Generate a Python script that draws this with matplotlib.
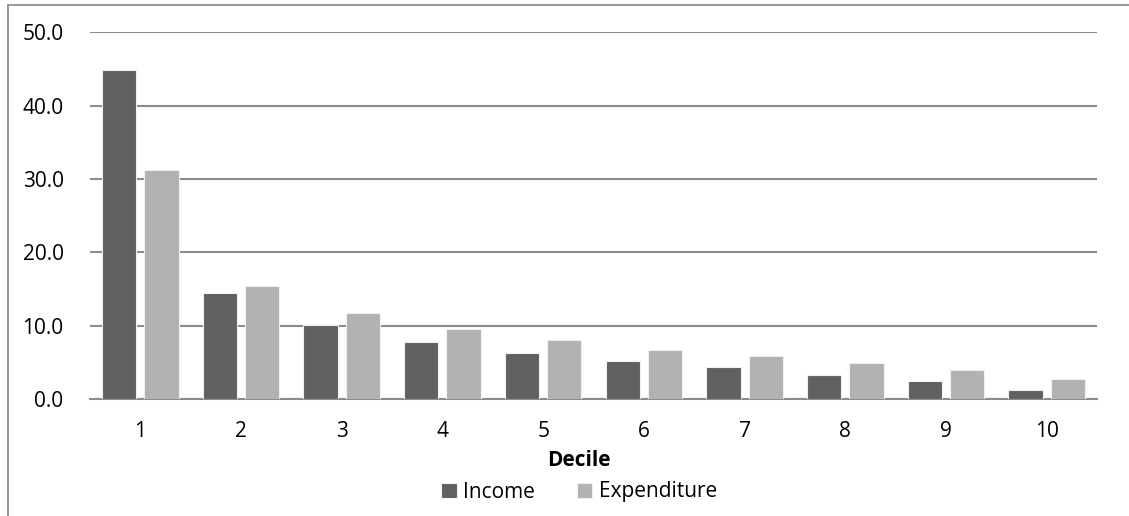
import matplotlib.pyplot as plt
import numpy as np
from matplotlib.lines import Line2D

plt.rcParams['font.family'] = ['Open Sans', 'DejaVu Sans']

# share by decile
deciles = ['1', '2', '3', '4', '5', '6', '7', '8', '9', '10']
income = [44.8, 14.5, 10.1, 7.8, 6.3, 5.2, 4.3, 3.3, 2.5, 1.2]
expenditure = [31.2, 15.4, 11.7, 9.6, 8.0, 6.7, 5.8, 4.9, 4.0, 2.7]

fs = 15

fig = plt.figure(figsize=(11.29, 5.16), dpi=100)
ax = fig.add_axes([0.0797, 0.2267, 0.892, 0.7107])

x = np.arange(len(deciles))
w = 0.34
b1 = ax.bar(x - 0.21, income, w, color='#606060', edgecolor='#f0f0f0', linewidth=0.8,
            label='Income', zorder=3)
b2 = ax.bar(x + 0.21, expenditure, w, color='#b2b2b2', edgecolor='#f0f0f0', linewidth=0.8,
            label='Expenditure', zorder=3)

ax.set_xlim(-0.5, len(deciles) - 0.5)
ax.set_ylim(0, 50)
ax.set_yticks(np.arange(0, 51, 10))
ax.set_yticklabels([f'{v:.1f}' for v in np.arange(0, 51, 10)])
ax.set_xticks(x)
ax.set_xticklabels(deciles)
ax.tick_params(axis='both', length=0, labelsize=fs, colors='black')
ax.tick_params(axis='y', pad=19)
ax.tick_params(axis='x', pad=16)
ax.yaxis.grid(True, color='#8c8c8c', linewidth=1.5, zorder=0)
for s in ['top', 'right', 'left']:
    ax.spines[s].set_visible(False)
ax.spines['bottom'].set_color('#8c8c8c')
ax.spines['bottom'].set_linewidth(1.5)

fig.text(0.5125, 1 - 461 / 516, 'Decile', ha='center', va='center',
         fontsize=fs, fontweight='bold')

fig.legend(handles=[b1, b2], loc='center', bbox_to_anchor=(0.513, 1 - 492 / 516),
           ncol=2, frameon=False, fontsize=fs, handlelength=0.75, handleheight=0.75,
           handletextpad=0.3, columnspacing=2.0)

# outer chart border
fig.add_artist(Line2D([8 / 1129, 1], [1 - 5 / 516, 1 - 5 / 516], color='#888888', linewidth=1.2))
fig.add_artist(Line2D([8 / 1129, 8 / 1129], [0, 1 - 5 / 516], color='#888888', linewidth=1.2))

fig.savefig('out.png', dpi=100)
